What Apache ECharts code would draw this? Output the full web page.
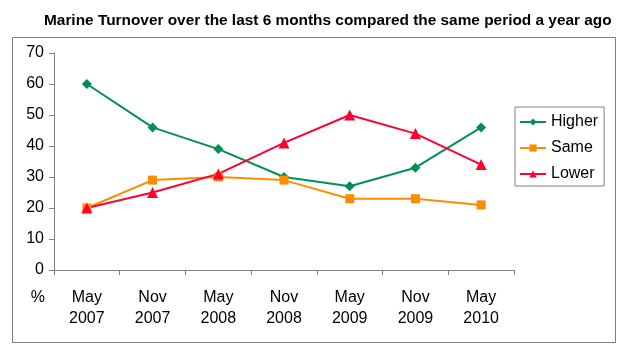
<!DOCTYPE html>
<html><head><meta charset="utf-8">
<script src="https://cdn.jsdelivr.net/npm/echarts@6/dist/echarts.min.js"></script>
<style>html,body{margin:0;padding:0;background:#fff}#c{width:630px;height:359px}</style>
</head><body><div id="c"></div>
<script>
var categories = ['May\n2007','Nov\n2007','May\n2008','Nov\n2008','May\n2009','Nov\n2009','May\n2010'];
var higher = [60, 46, 39, 30, 27, 33, 46];
var same = [20, 29, 30, 29, 23, 23, 21];
var lower = [20, 25, 31, 41, 50, 44, 34];
var yTicks = [0,10,20,30,40,50,60,70];

var chart = echarts.init(document.getElementById('c'), null, {renderer:'canvas'});
var font = 'Liberation Sans, Arial, sans-serif';
chart.setOption({
  animation:false,
  textStyle:{fontFamily:font},
  title:{text:'Marine Turnover over the last 6 months compared the same period a year ago',
    left:39, top:8, textStyle:{fontSize:15.4, fontWeight:'bold', color:'#000', fontFamily:font}},
  graphic:[{type:'rect', shape:{x:12.5,y:37.5,width:603,height:305}, style:{fill:'none', stroke:'#808080', lineWidth:1}, silent:true, z:-1}],
  legend:{orient:'vertical', left:515, top:107, width:89, itemWidth:26, itemHeight:9, itemGap:10,
    padding:[7,6,4,4], borderColor:'#808080', borderWidth:1,
    textStyle:{fontSize:16, color:'#000', fontFamily:font},
    data:['Higher','Same','Lower']},
  grid:{left:54, right:116, top:53, bottom:89, containLabel:false},
  xAxis:{type:'category', data:categories, boundaryGap:true,
    axisLine:{lineStyle:{color:'#808080', width:1}},
    axisTick:{show:true, length:5, lineStyle:{color:'#808080'}},
    axisLabel:{fontSize:16, color:'#000', lineHeight:21, margin:17, fontFamily:font}},
  yAxis:{type:'value', min:0, max:70, interval:10, name:'%', nameLocation:'start', nameGap:20,
    nameTextStyle:{fontSize:16, color:'#000', align:'right', padding:[0,9,0,0], fontFamily:font},
    axisLine:{show:true, lineStyle:{color:'#808080', width:1}},
    axisTick:{show:true, length:5, lineStyle:{color:'#808080'}},
    splitLine:{show:false},
    axisLabel:{fontSize:16, color:'#000', margin:10, fontFamily:font,
      formatter:function(v){return yTicks.indexOf(v)>=0? String(v):'';}}},
  series:[
    {name:'Higher', type:'line', data:higher, symbol:'diamond', symbolSize:10,
      lineStyle:{color:'#009150', width:2}, itemStyle:{color:'#009150'}},
    {name:'Same', type:'line', data:same, symbol:'rect', symbolSize:9,
      lineStyle:{color:'#ff8c00', width:2}, itemStyle:{color:'#ff8c00'}},
    {name:'Lower', type:'line', data:lower, symbol:'triangle', symbolSize:11,
      lineStyle:{color:'#ff0030', width:2}, itemStyle:{color:'#ff0030'}}
  ]
});
</script></body></html>
